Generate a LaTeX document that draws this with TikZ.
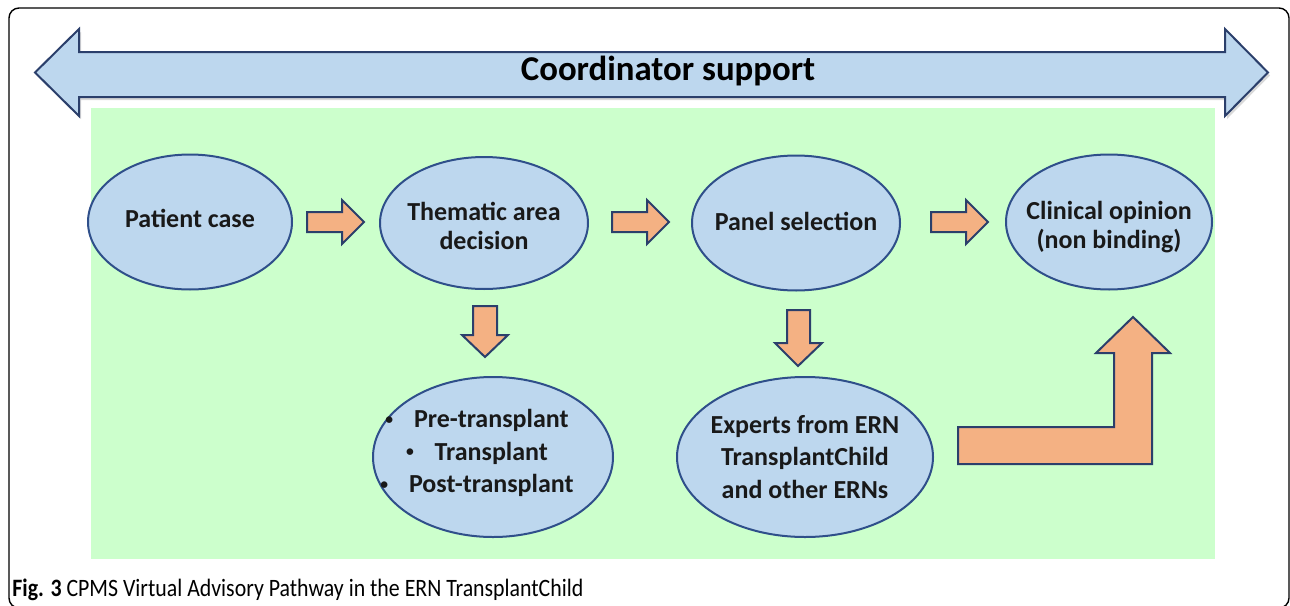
\documentclass[tikz,border=0pt]{standalone}
\usepackage{fontspec}
\setmainfont{Carlito}
\usetikzlibrary{shapes.geometric,shadows}
\definecolor{bgreen}{HTML}{CCFFCC}
\definecolor{bubblue}{HTML}{BDD7EE}
\definecolor{bordblue}{HTML}{2F4F8A}
\definecolor{arrorange}{HTML}{F4B183}
\definecolor{arrblue}{HTML}{2B3F6B}
\newcommand{\bul}{\raisebox{0.12em}{\scalebox{0.6}{\textbullet}}\hspace{0.8em}}
\tikzset{
  bub/.style={ellipse, draw=bordblue, line width=1pt, fill=bubblue, inner sep=0pt},
  txt/.style={font=\bfseries\fontsize{13}{14.5}\selectfont, align=center, text=black!90},
  txtl/.style={font=\bfseries\fontsize{13}{16.2}\selectfont, align=center, text=black!90},
  blk/.style={draw=arrblue, line width=1pt, fill=arrorange, line join=miter},
}
\begin{document}
\begin{tikzpicture}[x=0.5pt, y=-0.5pt]
    \useasboundingbox (0,0) rectangle (1290,605);
    \clip (0,0) rectangle (1290,605);
    % frame and background
    \draw[line width=0.7pt, rounded corners=5pt] (9,8) rectangle (1289,608);
    \fill[bgreen] (91,108) rectangle (1215,559);
    % coordinator arrow
    \draw[draw=arrblue, line width=1pt, fill=bubblue, line join=miter,
        drop shadow={opacity=0.3, shadow xshift=1pt, shadow yshift=-1.5pt}]
        (35,72.5)--(79,29)--(79,52)--(1225,52)--(1225,29)--(1268,72.5)
        --(1225,116)--(1225,97)--(79,97)--(79,116)--cycle;
    \node[font=\bfseries\fontsize{17.4}{20}\selectfont] (coord) at (668,71) {Coordinator support};
    % top row
    \node[bub, minimum width=102pt, minimum height=67.5pt, label={[txt, yshift=2pt]center:Patient case}] (pat) at (190,222) {};
    \node[bub, minimum width=104pt, minimum height=66pt, label={[txt, yshift=-1.5pt]center:{Thematic area\\decision}}] (them) at (484,223) {};
    \node[bub, minimum width=104pt, minimum height=67.5pt, label={[txt, yshift=1pt]center:Panel selection}] (pan) at (796,223) {};
    \node[bub, minimum width=103pt, minimum height=67.5pt, label={[txt, yshift=-2.5pt]center:{Clinical opinion\\(non binding)}}] (clin) at (1109,222) {};
    % bottom row
    \node[bub, minimum width=120pt, minimum height=80pt,
        label={[txtl, xshift=-8pt, yshift=2pt]center:{\bul Pre-transplant\\\bul Transplant\\\bul Post-transplant}}] (area) at (493,457) {};
    \node[bub, minimum width=128pt, minimum height=80pt,
        label={[txtl]center:{Experts from ERN\\TransplantChild\\and other ERNs}}] (exp) at (805,457) {};
    % block arrows
    \draw[blk] (307,212)--(342,212)--(342,200)--(364,222)--(342,244)--(342,232)--(307,232)--cycle;
    \draw[blk] (612,212)--(647,212)--(647,200)--(669,222)--(647,244)--(647,232)--(612,232)--cycle;
    \draw[blk] (931,212)--(966,212)--(966,200)--(988,222)--(966,244)--(966,232)--(931,232)--cycle;
    \draw[blk] (473,306)--(497,306)--(497,335)--(508,335)--(485,357)--(462,335)--(473,335)--cycle;
    \draw[blk] (787,310)--(810,310)--(810,343)--(822,343)--(798,366)--(775,343)--(787,343)--cycle;
    \draw[blk] (958,427)--(1114,427)--(1114,353)--(1096,353)--(1133,317)--(1170,353)
        --(1152,353)--(1152,464)--(958,464)--cycle;
    % caption
    \node[anchor=base west, inner sep=0pt] (cap) at (12,596)
        {\resizebox{285.5pt}{\height}{\fontsize{12.5}{14}\selectfont\textbf{Fig. 3} CPMS Virtual Advisory Pathway in the ERN TransplantChild}};
\end{tikzpicture}
\end{document}
